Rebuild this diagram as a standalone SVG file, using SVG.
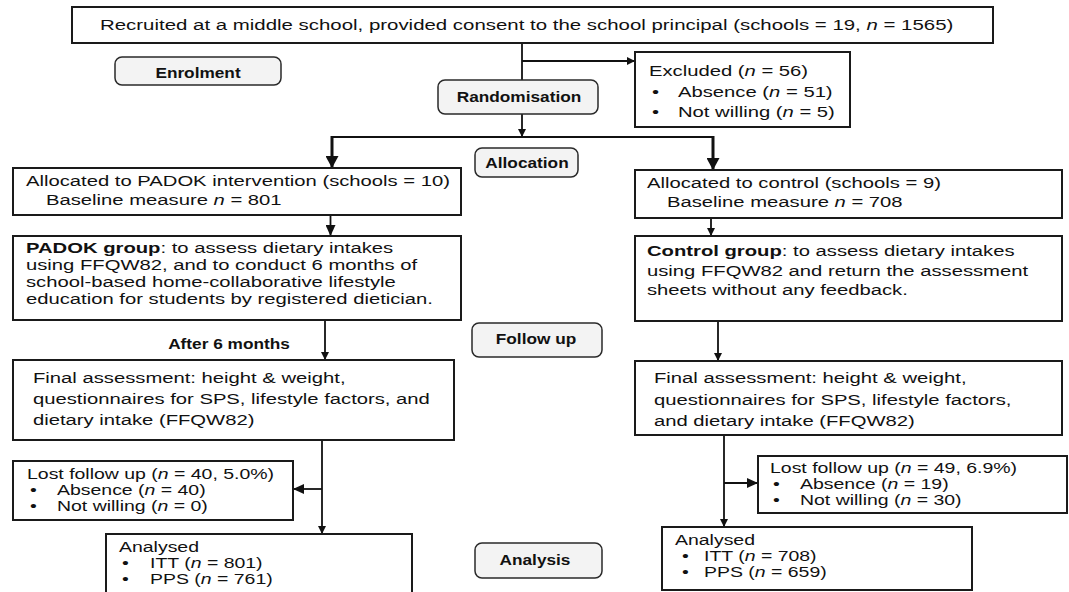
<svg xmlns="http://www.w3.org/2000/svg" width="1069" height="592" viewBox="0 0 1069 592">
<style>
  .box { fill: #ffffff; stroke: #1a1a1a; stroke-width: 2; }
  .pill { fill: #f3f3f3; stroke: #2a2a2a; stroke-width: 1.5; }
  .t { font-family: "Liberation Sans", Arial, sans-serif; font-size: 15px; fill: #111; }
  .s { font-family: "Liberation Sans", Arial, sans-serif; font-size: 14px; fill: #111; }
  .lab { font-family: "Liberation Sans", Arial, sans-serif; font-size: 15px; font-weight: bold; fill: #111; text-anchor: middle; }
  .b { font-weight: bold; }
  .i { font-style: italic; }
  .ln { fill: none; stroke: #111; stroke-width: 1.8; }
  .thick { fill: none; stroke: #111; stroke-width: 3; }
</style>
<defs>
  <marker id="ah" markerUnits="userSpaceOnUse" markerWidth="8" markerHeight="8" refX="8" refY="4" orient="auto">
    <path d="M0,0 L8,4 L0,8 z" fill="#111"/>
  </marker>
  <marker id="ahm" markerUnits="userSpaceOnUse" markerWidth="11" markerHeight="10" refX="11" refY="5" orient="auto">
    <path d="M0,0 L11,5 L0,10 z" fill="#111"/>
  </marker>
  <marker id="ahb" markerUnits="userSpaceOnUse" markerWidth="12" markerHeight="13" refX="12" refY="6.5" orient="auto">
    <path d="M0,0 L12,6.5 L0,13 z" fill="#111"/>
  </marker>
</defs>
<rect width="1069" height="592" fill="#ffffff"/>

<g id="connectors">
  <line class="ln" x1="522" y1="43" x2="522" y2="80"/>
  <line class="ln" x1="522" y1="61" x2="635" y2="61" marker-end="url(#ah)"/>
  <line class="ln" x1="522" y1="114" x2="522" y2="137" marker-end="url(#ah)"/>
  <line class="ln" stroke-width="2" x1="331" y1="137" x2="714" y2="137"/>
  <line class="thick" x1="332" y1="136" x2="332" y2="168" marker-end="url(#ahb)"/>
  <line class="thick" x1="713" y1="136" x2="713" y2="170" marker-end="url(#ahb)"/>
  <line class="ln" stroke-width="2" x1="330.5" y1="215" x2="330.5" y2="236" marker-end="url(#ahm)"/>
  <line class="ln" x1="711" y1="218" x2="711" y2="236" marker-end="url(#ah)"/>
  <line class="ln" x1="325" y1="320" x2="325" y2="360" marker-end="url(#ah)"/>
  <line class="ln" x1="718" y1="321" x2="718" y2="361" marker-end="url(#ah)"/>
  <line class="ln" x1="322" y1="440" x2="322" y2="534" marker-end="url(#ah)"/>
  <line class="ln" stroke-width="2" x1="322" y1="489" x2="293" y2="489" marker-end="url(#ahm)"/>
  <line class="ln" x1="724" y1="435" x2="724" y2="527" marker-end="url(#ah)"/>
  <line class="ln" stroke-width="2" x1="724" y1="483" x2="758" y2="483" marker-end="url(#ahm)"/>
</g>

<g id="recruited">
  <rect class="box" x="72" y="7" width="921" height="36"/>
  <text class="t" transform="translate(100 30) scale(1.362 1)">Recruited at a middle school, provided consent to the school principal (schools = 19, <tspan class="i">n</tspan> = 1565)</text>
</g>

<g id="enrolment">
  <rect class="pill" x="115" y="57" width="166" height="28" rx="7"/>
  <text class="lab" transform="translate(198 78) scale(1.15 1)">Enrolment</text>
</g>

<g id="randomisation">
  <rect class="pill" x="438" y="80" width="160" height="34" rx="7"/>
  <text class="lab" transform="translate(519 102) scale(1.15 1)">Randomisation</text>
</g>

<g id="excluded">
  <rect class="box" x="635" y="52" width="215" height="75"/>
  <text class="t" transform="translate(649 76) scale(1.35 1)">Excluded (<tspan class="i">n</tspan> = 56)</text>
  <text class="t" transform="translate(652 97) scale(1.35 1)">•</text>
  <text class="t" transform="translate(678 97) scale(1.35 1)">Absence (<tspan class="i">n</tspan> = 51)</text>
  <text class="t" transform="translate(652 117) scale(1.35 1)">•</text>
  <text class="t" transform="translate(678 117) scale(1.35 1)">Not willing (<tspan class="i">n</tspan> = 5)</text>
</g>

<g id="allocation">
  <rect class="pill" x="475" y="148" width="103" height="29" rx="7"/>
  <text class="lab" transform="translate(527 168) scale(1.15 1)">Allocation</text>
</g>

<g id="alloc-padok">
  <rect class="box" x="13" y="168" width="448" height="47"/>
  <text class="t" transform="translate(26 186) scale(1.35 1)">Allocated to PADOK intervention (schools = 10)</text>
  <text class="t" transform="translate(46 205) scale(1.35 1)">Baseline measure <tspan class="i">n</tspan> = 801</text>
</g>

<g id="alloc-control">
  <rect class="box" x="635" y="170" width="427" height="48"/>
  <text class="t" transform="translate(647 188) scale(1.35 1)">Allocated to control (schools = 9)</text>
  <text class="t" transform="translate(667 207) scale(1.35 1)">Baseline measure <tspan class="i">n</tspan> = 708</text>
</g>

<g id="padok-group">
  <rect class="box" x="13" y="236" width="448" height="84"/>
  <text class="t" transform="translate(26 253) scale(1.35 1)"><tspan class="b">PADOK group</tspan>: to assess dietary intakes</text>
  <text class="t" transform="translate(26 270) scale(1.35 1)">using FFQW82, and to conduct 6 months of</text>
  <text class="t" transform="translate(26 287) scale(1.35 1)">school-based home-collaborative lifestyle</text>
  <text class="t" transform="translate(26 304) scale(1.35 1)">education for students by registered dietician.</text>
</g>

<g id="control-group">
  <rect class="box" x="635" y="236" width="427" height="85"/>
  <text class="t" transform="translate(647 256) scale(1.35 1)"><tspan class="b">Control group</tspan>: to assess dietary intakes</text>
  <text class="t" transform="translate(647 276) scale(1.35 1)">using FFQW82 and return the assessment</text>
  <text class="t" transform="translate(647 295) scale(1.35 1)">sheets without any feedback.</text>
</g>

<g id="after-6-months">
  <text class="lab" transform="translate(229 349) scale(1.15 1)">After 6 months</text>
</g>

<g id="follow-up">
  <rect class="pill" x="472" y="323" width="130" height="34" rx="7"/>
  <text class="lab" transform="translate(536 344) scale(1.15 1)">Follow up</text>
</g>

<g id="final-padok">
  <rect class="box" x="13" y="360" width="441" height="80"/>
  <text class="t" transform="translate(33 383) scale(1.35 1)">Final assessment: height &amp; weight,</text>
  <text class="t" transform="translate(33 404) scale(1.35 1)">questionnaires for SPS, lifestyle factors, and</text>
  <text class="t" transform="translate(33 425) scale(1.35 1)">dietary intake (FFQW82)</text>
</g>

<g id="final-control">
  <rect class="box" x="635" y="361" width="427" height="74"/>
  <text class="t" transform="translate(654 383) scale(1.35 1)">Final assessment: height &amp; weight,</text>
  <text class="t" transform="translate(654 405) scale(1.35 1)">questionnaires for SPS, lifestyle factors,</text>
  <text class="t" transform="translate(654 426) scale(1.35 1)">and dietary intake (FFQW82)</text>
</g>

<g id="lost-padok">
  <rect class="box" x="13" y="461" width="280" height="59"/>
  <text class="s" transform="translate(27 479) scale(1.39 1)">Lost follow up (<tspan class="i">n</tspan> = 40, 5.0%)</text>
  <text class="s" transform="translate(30 495) scale(1.39 1)">•</text>
  <text class="s" transform="translate(57 495) scale(1.39 1)">Absence (<tspan class="i">n</tspan> = 40)</text>
  <text class="s" transform="translate(30 511) scale(1.39 1)">•</text>
  <text class="s" transform="translate(57 511) scale(1.39 1)">Not willing (<tspan class="i">n</tspan> = 0)</text>
</g>

<g id="lost-control">
  <rect class="box" x="758" y="456" width="309" height="57"/>
  <text class="s" transform="translate(770 473) scale(1.39 1)">Lost follow up (<tspan class="i">n</tspan> = 49, 6.9%)</text>
  <text class="s" transform="translate(773 489) scale(1.39 1)">•</text>
  <text class="s" transform="translate(800 489) scale(1.39 1)">Absence (<tspan class="i">n</tspan> = 19)</text>
  <text class="s" transform="translate(773 505) scale(1.39 1)">•</text>
  <text class="s" transform="translate(800 505) scale(1.39 1)">Not willing (<tspan class="i">n</tspan> = 30)</text>
</g>

<g id="analysis">
  <rect class="pill" x="475" y="543" width="127" height="35" rx="7"/>
  <text class="lab" transform="translate(535 565) scale(1.15 1)">Analysis</text>
</g>

<g id="analysed-padok">
  <rect class="box" x="106" y="534" width="306" height="70"/>
  <text class="s" transform="translate(119 552) scale(1.39 1)">Analysed</text>
  <text class="s" transform="translate(122 568) scale(1.39 1)">•</text>
  <text class="s" transform="translate(150 568) scale(1.39 1)">ITT (<tspan class="i">n</tspan> = 801)</text>
  <text class="s" transform="translate(122 584) scale(1.39 1)">•</text>
  <text class="s" transform="translate(150 584) scale(1.39 1)">PPS (<tspan class="i">n</tspan> = 761)</text>
</g>

<g id="analysed-control">
  <rect class="box" x="662" y="527" width="310" height="63"/>
  <text class="s" transform="translate(675 545) scale(1.39 1)">Analysed</text>
  <text class="s" transform="translate(682 561) scale(1.39 1)">•</text>
  <text class="s" transform="translate(704 561) scale(1.39 1)">ITT (<tspan class="i">n</tspan> = 708)</text>
  <text class="s" transform="translate(682 577) scale(1.39 1)">•</text>
  <text class="s" transform="translate(704 577) scale(1.39 1)">PPS (<tspan class="i">n</tspan> = 659)</text>
</g>
</svg>
